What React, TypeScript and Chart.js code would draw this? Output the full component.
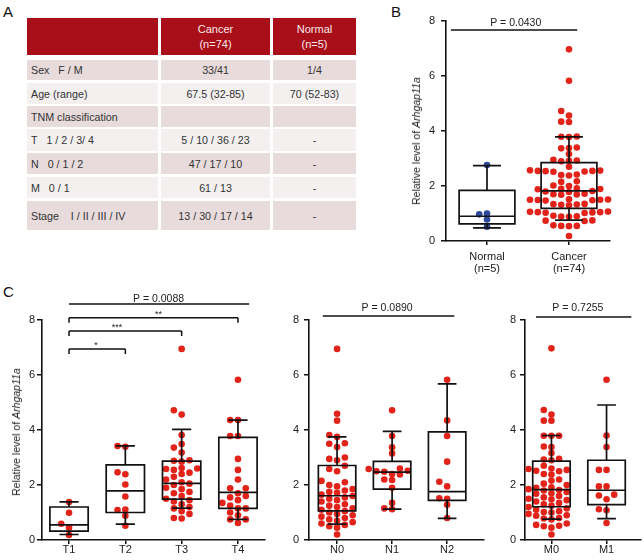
import React, { useEffect, useRef } from "react";
import { Chart, registerables } from "chart.js";

Chart.register(...registerables);

const FONT = '"Liberation Sans", Arial, Helvetica, sans-serif';
const RED = "#e2231a";
const BLUE = "#2c4a9c";
const INK = "#111";

// ---------------- Panel A: table ----------------
const tableHeader = ["", "Cancer\n(n=74)", "Normal\n(n=5)"];
const tableRowLabels = [
  "Sex\u00a0\u00a0\u00a0F / M",
  "Age (range)",
  "TNM classification",
  "T\u00a0\u00a0\u00a01 / 2 / 3/ 4",
  "N\u00a0\u00a0\u00a00 / 1 / 2",
  "M\u00a0\u00a0\u00a00 / 1",
  "Stage\u00a0\u00a0\u00a0\u00a0I / II / III / IV",
];
const tableCancer = ["33/41", "67.5 (32-85)", "", "5 / 10 / 36 / 23", "47 / 17 / 10", "61 / 13", "13 / 30 / 17 / 14"];
const tableNormal = ["1/4", "70 (52-83)", "", "-", "-", "-", "-"];

// ---------------- Panel B ----------------
const bCategories = [["Normal", "(n=5)"], ["Cancer", "(n=74)"]];
const bNormal = [2.76, 1.0, 0.97, 0.78, 0.52];
const bCancer = [
  6.97, 5.83, 4.73, 4.56, 4.34, 4.33, 3.79, 3.8, 3.78, 3.4, 3.38, 3.37, 3.16, 2.95, 2.93, 2.92, 2.9, 2.7,
  2.57, 2.56, 2.55, 2.55, 2.54, 2.53, 2.52, 2.42, 2.4, 2.38, 2.17, 2.15, 2.02, 2.0, 1.92, 1.9, 1.89, 1.88,
  1.82, 1.8, 1.78, 1.72, 1.7, 1.69, 1.68, 1.52, 1.51, 1.5, 1.5, 1.49, 1.48, 1.47, 1.35, 1.34, 1.33, 1.32,
  1.3, 1.07, 1.06, 1.05, 1.05, 1.04, 1.03, 1.02, 0.92, 0.9, 0.89, 0.88, 0.75, 0.74, 0.73, 0.57, 0.55, 0.55,
  0.54, 0.18,
];
const bQ1 = [0.62, 1.19];
const bMedian = [0.9, 1.82];
const bQ3 = [1.84, 2.85];
const bLow = [0.48, 0.76];
const bHigh = [2.74, 3.79];

// ---------------- Panel C: T stage ----------------
const tCategories = ["T1", "T2", "T3", "T4"];
const tT1 = [1.38, 0.99, 0.59, 0.45, 0.18];
const tT2 = [3.42, 3.39, 2.46, 2.39, 2.02, 1.58, 1.11, 1.09, 0.88, 0.52];
const tT3 = [
  6.95, 4.72, 4.56, 3.82, 3.49, 3.36, 3.18, 2.9, 2.88, 2.85, 2.62, 2.6, 2.58, 2.55, 2.45, 2.4, 2.3, 2.2,
  2.1, 2.05, 2.0, 1.9, 1.85, 1.75, 1.7, 1.6, 1.5, 1.45, 1.4, 1.3, 1.2, 1.15, 1.05, 0.95, 0.8, 0.78,
];
const tT4 = [
  5.83, 4.36, 4.36, 3.78, 3.78, 2.95, 2.55, 2.2, 1.88, 1.88, 1.7, 1.6, 1.55, 1.45, 1.35, 1.25, 1.15, 1.15,
  1.0, 0.9, 0.75, 0.75, 0.62,
];
const tQ1 = [0.32, 1.0, 1.49, 1.15];
const tMedian = [0.55, 1.79, 2.06, 1.73];
const tQ3 = [1.2, 2.73, 2.87, 3.73];
const tLow = [0.2, 0.58, 1.16, 0.75];
const tHigh = [1.39, 3.42, 4.02, 4.36];

// ---------------- Panel C: N stage ----------------
const nCategories = ["N0", "N1", "N2"];
const nN0 = [
  6.95, 4.59, 4.34, 3.82, 3.75, 3.52, 3.5, 3.38, 3.0, 2.95, 2.9, 2.7, 2.58, 2.5, 2.15, 2.1, 2.0, 1.95, 1.85,
  1.8, 1.75, 1.72, 1.65, 1.6, 1.55, 1.5, 1.45, 1.4, 1.3, 1.25, 1.2, 1.15, 1.1, 1.05, 1.0, 0.95, 0.9, 0.85,
  0.8, 0.75, 0.7, 0.65, 0.6, 0.55, 0.5, 0.45, 0.2,
];
const nN1 = [4.72, 3.78, 3.37, 3.15, 2.6, 2.58, 2.52, 2.5, 2.48, 2.4, 2.38, 2.2, 2.18, 1.9, 1.35, 1.15, 1.12];
const nN2 = [5.83, 4.35, 3.78, 2.85, 2.12, 1.95, 1.52, 1.5, 1.28, 0.8];
const nQ1 = [1.06, 1.85, 1.44];
const nMedian = [1.61, 2.47, 1.76];
const nQ3 = [2.71, 2.86, 3.93];
const nLow = [0.58, 1.12, 0.79];
const nHigh = [3.75, 3.95, 5.68];

// ---------------- Panel C: M stage ----------------
const mCategories = ["M0", "M1"];
const mM0 = [
  6.97, 4.73, 4.56, 4.34, 4.34, 3.79, 3.79, 3.79, 3.4, 3.38, 3.16, 2.95, 2.93, 2.9, 2.7, 2.6, 2.58, 2.55,
  2.52, 2.5, 2.4, 2.38, 2.2, 2.16, 2.05, 2.0, 1.92, 1.9, 1.85, 1.82, 1.8, 1.75, 1.7, 1.68, 1.6, 1.55, 1.5,
  1.48, 1.45, 1.4, 1.35, 1.3, 1.25, 1.2, 1.15, 1.1, 1.05, 1.02, 1.0, 0.95, 0.9, 0.88, 0.8, 0.78, 0.75, 0.6,
  0.55, 0.52, 0.5, 0.45, 0.2,
];
const mM1 = [5.83, 3.8, 3.38, 2.55, 2.55, 1.95, 1.95, 1.65, 1.62, 1.48, 1.12, 1.08, 0.62];
const mQ1 = [1.21, 1.29];
const mMedian = [1.83, 1.81];
const mQ3 = [2.87, 2.9];
const mLow = [0.76, 0.78];
const mHigh = [3.8, 4.91];

// ---------------- helpers ----------------
type Stats = { q1: number[]; med: number[]; q3: number[]; lo: number[]; hi: number[] };
type Line = { x1: number; x2: number; y: number; drop?: number };
type Txt = { x: number; y: number; t: string; size: number };

type Spec = {
  labels: (string | string[])[];
  groups: number[][];
  colors: string[];
  stats: Stats;
  xMin: number;
  xMax: number;
  pad: { left: number; right: number; top: number };
  xAxisH: number;
  yAxisW: number;
  yTickPad: number;
  xTickPad: number;
  xLineHeight: number;
  pxX: number;
  pxY: number;
  lines: Line[];
  texts: Txt[];
};

const BOX_W = 0.68;
const CAP_W = 0.34;
const DOT_R = 3.3;

// Prism-like scatter arrangement: points sit in columns spaced one dot apart, avoiding overlap
function swarm(values: number[], group: number, pxX: number, pxY: number) {
  const diam = 6.0;
  const step = 7.8;
  const placed: { x: number; y: number }[] = [];
  const order = values.map((v, i) => ({ v, i })).sort((a, b) => a.v - b.v);
  const out: { x: number; y: number }[] = new Array(values.length);
  for (const { v, i } of order) {
    const py = v * pxY;
    let chosen = 0;
    for (let k = 0; k < 80; k++) {
      const off = k === 0 ? 0 : (k % 2 === 1 ? -1 : 1) * Math.ceil(k / 2) * step;
      const ok = placed.every((p) => (p.x - off) ** 2 + (p.y - py) ** 2 >= diam * diam);
      if (ok) {
        chosen = off;
        break;
      }
    }
    placed.push({ x: chosen, y: py });
    out[i] = { x: group + chosen / pxX, y: v };
  }
  return out;
}

function buildConfig(spec: Spec): any {
  const boxPlugin = {
    id: "boxes",
    afterDatasetsDraw(chart: any) {
      const { ctx } = chart;
      const x = chart.scales.x;
      const y = chart.scales.y;
      ctx.save();
      ctx.strokeStyle = INK;
      ctx.lineWidth = 1.7;
      ctx.lineCap = "butt";
      spec.stats.q1.forEach((q1: number, i: number) => {
        const xl = x.getPixelForValue(i - BOX_W / 2);
        const xr = x.getPixelForValue(i + BOX_W / 2);
        const xc = x.getPixelForValue(i);
        const cl = x.getPixelForValue(i - CAP_W / 2);
        const cr = x.getPixelForValue(i + CAP_W / 2);
        const y1 = y.getPixelForValue(q1);
        const y3 = y.getPixelForValue(spec.stats.q3[i]);
        const ym = y.getPixelForValue(spec.stats.med[i]);
        const ylo = y.getPixelForValue(spec.stats.lo[i]);
        const yhi = y.getPixelForValue(spec.stats.hi[i]);
        ctx.beginPath();
        ctx.rect(xl, y3, xr - xl, y1 - y3);
        ctx.moveTo(xl, ym);
        ctx.lineTo(xr, ym);
        ctx.moveTo(xc, y3);
        ctx.lineTo(xc, yhi);
        ctx.moveTo(cl, yhi);
        ctx.lineTo(cr, yhi);
        ctx.moveTo(xc, y1);
        ctx.lineTo(xc, ylo);
        ctx.moveTo(cl, ylo);
        ctx.lineTo(cr, ylo);
        ctx.stroke();
      });
      ctx.restore();
    },
  };
  const annPlugin = {
    id: "ann",
    afterDraw(chart: any) {
      const { ctx } = chart;
      const x = chart.scales.x;
      const y = chart.scales.y;
      ctx.save();
      ctx.strokeStyle = INK;
      ctx.lineWidth = 1.5;
      spec.lines.forEach((l) => {
        const x1 = x.getPixelForValue(l.x1);
        const x2 = x.getPixelForValue(l.x2);
        const yy = y.getPixelForValue(l.y);
        ctx.beginPath();
        ctx.moveTo(x1, yy);
        ctx.lineTo(x2, yy);
        if (l.drop !== undefined) {
          const yd = y.getPixelForValue(l.drop);
          ctx.moveTo(x1, yy);
          ctx.lineTo(x1, yd);
          ctx.moveTo(x2, yy);
          ctx.lineTo(x2, yd);
        }
        ctx.stroke();
      });
      ctx.fillStyle = "#222";
      ctx.textAlign = "center";
      ctx.textBaseline = "alphabetic";
      spec.texts.forEach((t) => {
        ctx.font = `${t.size}px ${FONT}`;
        ctx.fillText(t.t, x.getPixelForValue(t.x), y.getPixelForValue(t.y));
      });
      ctx.restore();
    },
  };

  return {
    type: "scatter",
    data: {
      datasets: spec.groups.map((vals, i) => ({
        data: swarm(vals, i, spec.pxX, spec.pxY),
        backgroundColor: spec.colors[i],
        borderWidth: 0,
        pointRadius: DOT_R,
        pointHoverRadius: DOT_R,
        clip: false,
      })),
    },
    options: {
      animation: false,
      responsive: false,
      events: [],
      layout: { padding: { left: spec.pad.left, right: spec.pad.right, top: spec.pad.top, bottom: 0 } },
      plugins: { legend: { display: false }, tooltip: { enabled: false } },
      scales: {
        x: {
          type: "linear",
          min: spec.xMin,
          max: spec.xMax,
          afterBuildTicks: (s: any) => {
            s.ticks = spec.labels.map((_, i) => ({ value: i }));
          },
          afterFit: (s: any) => {
            s.height = spec.xAxisH;
          },
          ticks: {
            autoSkip: false,
            maxRotation: 0,
            minRotation: 0,
            padding: spec.xTickPad,
            color: "#222",
            font: { family: FONT, size: 11, lineHeight: spec.xLineHeight },
            callback: (_v: any, i: number) => spec.labels[i],
          },
          grid: { drawOnChartArea: false, drawTicks: true, tickLength: 4, color: INK, lineWidth: 1.5 },
          border: { display: true, color: INK, width: 1.6 },
        },
        y: {
          type: "linear",
          min: 0,
          max: 8,
          afterFit: (s: any) => {
            s.width = spec.yAxisW;
          },
          ticks: {
            stepSize: 2,
            padding: spec.yTickPad,
            color: "#222",
            font: { family: FONT, size: 11 },
          },
          grid: { drawOnChartArea: false, drawTicks: true, tickLength: 5, color: INK, lineWidth: 1.5 },
          border: { display: true, color: INK, width: 1.6 },
        },
      },
    },
    plugins: [boxPlugin, annPlugin],
  };
}

// ---------------- chart specs ----------------
const specB: Spec = {
  labels: bCategories,
  groups: [bNormal, bCancer],
  colors: [BLUE, RED],
  stats: { q1: bQ1, med: bMedian, q3: bQ3, lo: bLow, hi: bHigh },
  xMin: -0.5,
  xMax: 1.5,
  pad: { left: 44, right: 34, top: 21 },
  xAxisH: 39,
  yAxisW: 22,
  yTickPad: 6,
  xTickPad: 6,
  xLineHeight: 1.1,
  pxX: 82,
  pxY: 27.5,
  lines: [{ x1: -0.44, x2: 1.1, y: 7.67 }],
  texts: [{ x: 0.35, y: 7.83, t: "P = 0.0430", size: 10.5 }],
};

const specT: Spec = {
  labels: tCategories,
  groups: [tT1, tT2, tT3, tT4],
  colors: [RED, RED, RED, RED],
  stats: { q1: tQ1, med: tMedian, q3: tQ3, lo: tLow, hi: tHigh },
  xMin: -0.48,
  xMax: 3.48,
  pad: { left: 20, right: 20, top: 40 },
  xAxisH: 20,
  yAxisW: 22,
  yTickPad: 2,
  xTickPad: 0,
  xLineHeight: 1.0,
  pxX: 56.3,
  pxY: 27.5,
  lines: [
    { x1: 0, x2: 3.2, y: 8.58 },
    { x1: 0, x2: 3, y: 8.08, drop: 7.9 },
    { x1: 0, x2: 2, y: 7.6, drop: 7.42 },
    { x1: 0, x2: 1, y: 6.95, drop: 6.76 },
  ],
  texts: [
    { x: 1.59, y: 8.67, t: "P = 0.0088", size: 10.5 },
    { x: 1.59, y: 8.1, t: "**", size: 9 },
    { x: 0.85, y: 7.62, t: "***", size: 9 },
    { x: 0.48, y: 6.97, t: "*", size: 9 },
  ],
};

const specN: Spec = {
  labels: nCategories,
  groups: [nN0, nN1, nN2],
  colors: [RED, RED, RED],
  stats: { q1: nQ1, med: nMedian, q3: nQ3, lo: nLow, hi: nHigh },
  xMin: -0.51,
  xMax: 2.67,
  pad: { left: 7, right: 6, top: 40 },
  xAxisH: 20,
  yAxisW: 22,
  yTickPad: 5,
  xTickPad: 0,
  xLineHeight: 1.0,
  pxX: 55,
  pxY: 27.5,
  lines: [{ x1: -0.26, x2: 2.13, y: 8.15 }],
  texts: [{ x: 0.91, y: 8.34, t: "P = 0.0890", size: 10.5 }],
};

const specM: Spec = {
  labels: mCategories,
  groups: [mM0, mM1],
  colors: [RED, RED],
  stats: { q1: mQ1, med: mMedian, q3: mQ3, lo: mLow, hi: mHigh },
  xMin: -0.48,
  xMax: 1.62,
  pad: { left: 13, right: 1, top: 40 },
  xAxisH: 20,
  yAxisW: 22,
  yTickPad: 4,
  xTickPad: 0,
  xLineHeight: 1.0,
  pxX: 56.2,
  pxY: 27.5,
  lines: [{ x1: -0.28, x2: 1.45, y: 8.11 }],
  texts: [{ x: 0.48, y: 8.34, t: "P = 0.7255", size: 10.5 }],
};

// ---------------- components ----------------
function BoxChart({ spec, left, top, width, height }: { spec: Spec; left: number; top: number; width: number; height: number }) {
  const ref = useRef<HTMLCanvasElement>(null);
  useEffect(() => {
    const chart = new Chart(ref.current as HTMLCanvasElement, buildConfig(spec));
    return () => chart.destroy();
  }, [spec]);
  return (
    <canvas
      ref={ref}
      width={width}
      height={height}
      style={{ position: "absolute", left, top, width, height }}
    />
  );
}

function YTitle({ cx, cy }: { cx: number; cy: number }) {
  return (
    <div
      style={{
        position: "absolute",
        left: cx,
        top: cy,
        transform: "translate(-50%, -50%) rotate(-90deg)",
        whiteSpace: "nowrap",
        fontSize: 10.5,
        color: "#222",
        fontFamily: FONT,
      }}
    >
      Relative level of <i>Arhgap11a</i>
    </div>
  );
}

function Letter({ t, x, y }: { t: string; x: number; y: number }) {
  return (
    <div style={{ position: "absolute", left: x, top: y, fontSize: 15, lineHeight: "15px", color: "#111", fontFamily: FONT }}>
      {t}
    </div>
  );
}

const colLeft = [27, 161, 273];
const colWidth = [131, 109, 83];
const rowTop = [60, 83, 106, 129, 153, 177, 201];
const rowHeight = [20, 21, 21, 22, 21, 21, 29];
const rowColor = ["#e8dbdb", "#f4f0f0", "#e8dbdb", "#f4f0f0", "#e8dbdb", "#f4f0f0", "#e8dbdb"];

function TablePanel() {
  const cells: React.ReactNode[] = [];
  tableHeader.forEach((h, c) => {
    cells.push(
      <div
        key={"h" + c}
        style={{
          position: "absolute",
          left: colLeft[c],
          top: 18,
          width: colWidth[c],
          height: 37,
          background: "#a80f19",
          color: "#fbe9e9",
          fontSize: 11,
          lineHeight: "14.5px",
          display: "flex",
          alignItems: "center",
          justifyContent: "center",
          textAlign: "center",
          whiteSpace: "pre",
        }}
      >
        {h}
      </div>
    );
  });
  tableRowLabels.forEach((lab, r) => {
    const vals = [lab, tableCancer[r], tableNormal[r]];
    vals.forEach((v, c) => {
      cells.push(
        <div
          key={"r" + r + "c" + c}
          style={{
            position: "absolute",
            left: colLeft[c],
            top: rowTop[r],
            width: colWidth[c],
            height: rowHeight[r],
            background: rowColor[r],
            color: "#333",
            fontSize: 10.7,
            display: "flex",
            alignItems: "center",
            justifyContent: c === 0 ? "flex-start" : "center",
            paddingLeft: c === 0 ? 4 : 0,
            boxSizing: "border-box",
            whiteSpace: "pre",
          }}
        >
          {v}
        </div>
      );
    });
  });
  return <>{cells}</>;
}

export default function App() {
  return (
    <div
      style={{
        position: "absolute",
        left: 0,
        top: 0,
        width: 644,
        height: 560,
        background: "#fff",
        overflow: "hidden",
        fontFamily: FONT,
      }}
    >
      <Letter t="A" x={3} y={4} />
      <Letter t="B" x={391} y={4} />
      <Letter t="C" x={3} y={284} />
      <TablePanel />
      <BoxChart spec={specB} left={380} top={0} width={264} height={280} />
      <BoxChart spec={specT} left={0} top={280} width={285} height={280} />
      <BoxChart spec={specN} left={280} top={280} width={210} height={280} />
      <BoxChart spec={specM} left={490} top={280} width={154} height={280} />
      <YTitle cx={416} cy={141} />
      <YTitle cx={16} cy={432} />
    </div>
  );
}
